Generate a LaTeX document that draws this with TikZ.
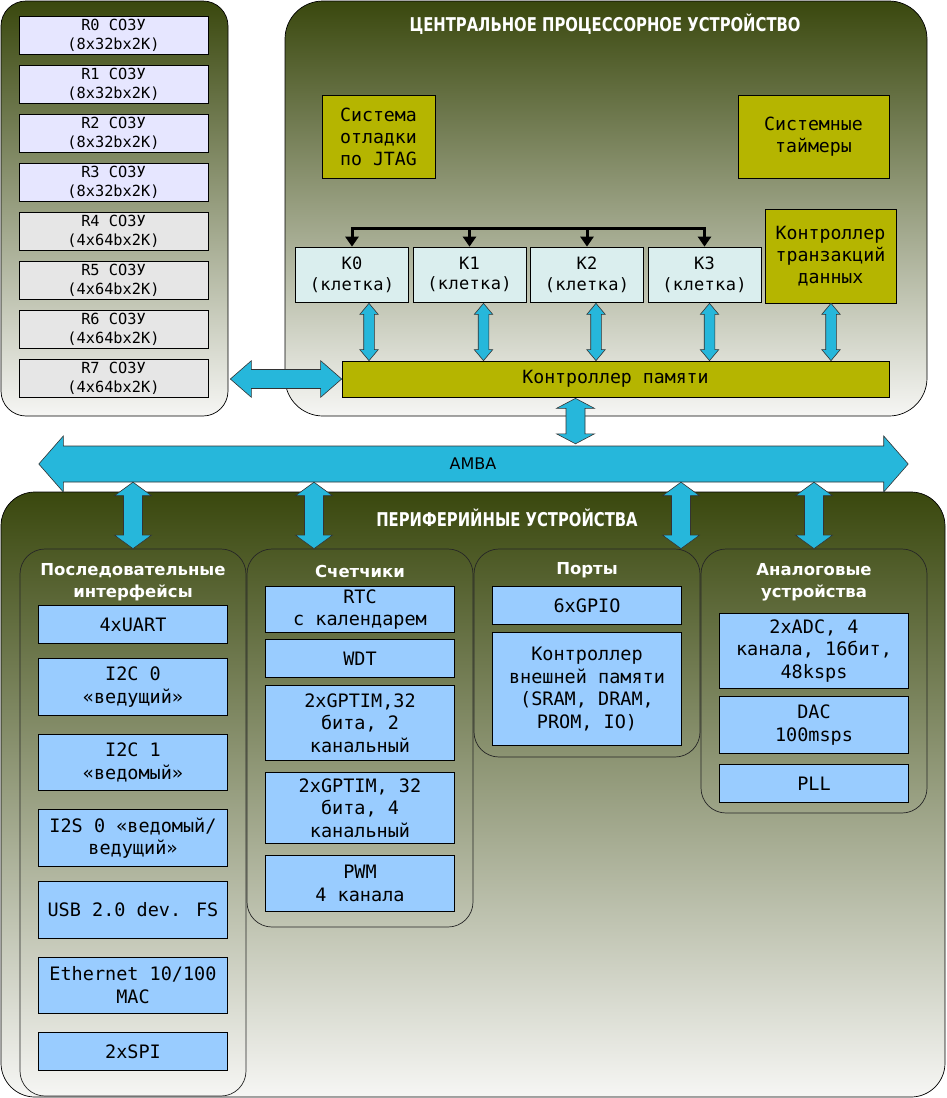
\documentclass[tikz,border=0pt]{standalone}
\usepackage{fontspec}
\setmainfont{DejaVu Sans}
\newfontfamily\monofnt{DejaVu Sans Mono}
\newfontfamily\kfnt[LetterSpace=2]{DejaVu Sans Mono}
\newfontfamily\condfnt[FakeStretch=0.78]{DejaVu Sans}
\usetikzlibrary{arrows.meta,calc}
\definecolor{olivetop}{RGB}{58,72,14}
\definecolor{olivebot}{RGB}{246,246,244}
\definecolor{arrowblue}{RGB}{38,183,219}
\definecolor{boxblue}{RGB}{153,204,255}
\definecolor{lav}{RGB}{230,230,255}
\definecolor{lgray}{RGB}{230,230,230}
\definecolor{kfill}{RGB}{218,238,238}
\definecolor{olivebox}{RGB}{181,181,0}
\newcommand\vdarr[5]{%
  \path[barrow] let \p1=(#1), \p2=(#2) in (\x1,\y1) -- (\x1+#4pt,\y1-#5pt) -- (\x1+#3pt,\y1-#5pt) -- (\x1+#3pt,\y2+#5pt) -- (\x1+#4pt,\y2+#5pt) -- (\x1,\y2) -- (\x1-#4pt,\y2+#5pt) -- (\x1-#3pt,\y2+#5pt) -- (\x1-#3pt,\y1-#5pt) -- (\x1-#4pt,\y1-#5pt) -- cycle;}
\newcommand\hdarr[5]{%
  \path[barrow] let \p1=(#1), \p2=(#2) in (\x1,\y1) -- (\x1+#5pt,\y1+#4pt) -- (\x1+#5pt,\y1+#3pt) -- (\x2-#5pt,\y1+#3pt) -- (\x2-#5pt,\y1+#4pt) -- (\x2,\y1) -- (\x2-#5pt,\y1-#4pt) -- (\x2-#5pt,\y1-#3pt) -- (\x1+#5pt,\y1-#3pt) -- (\x1+#5pt,\y1-#4pt) -- cycle;}
\begin{document}
\begin{tikzpicture}[x=1pt,y=-1pt,
  panel/.style={draw=black, line width=0.7pt, rounded corners=#1, top color=olivetop, bottom color=olivebot, inner sep=0pt},
  subpanel/.style={draw=black!85, line width=0.7pt, rounded corners=25pt, inner sep=0pt, minimum width=226pt},
  box/.style={draw=black, line width=0.7pt, inner sep=0pt, align=center, text=black},
  membox/.style={box, minimum width=189pt, minimum height=38pt, font=\monofnt\fontsize{15.3}{18.7}\selectfont},
  kbox/.style={box, fill=kfill, minimum width=113pt, minimum height=55pt, font=\kfnt\fontsize{17}{20.7}\selectfont},
  olbox/.style={box, fill=olivebox, font=\monofnt\fontsize{18.2}{22}\selectfont},
  bluebox/.style={box, fill=boxblue, minimum width=189pt, font=\monofnt\fontsize{18.5}{22.5}\selectfont},
  titletext/.style={text=white, font=\condfnt\bfseries\fontsize{19}{22}\selectfont, inner sep=0pt},
  subhead/.style={text=white, align=center, inner sep=0pt, font=\bfseries\fontsize{16.5}{22}\selectfont},
  barrow/.style={fill=arrowblue, draw=black!80, line width=0.6pt, line join=miter},
  busline/.style={draw=black, line width=3pt, line join=miter}
]
\useasboundingbox (0,0) rectangle (947,1098);

% ---------- panels ----------
\node[panel=25pt, minimum width=227pt, minimum height=415pt] (mempanel) at (114.5,208.5) {};
\node[panel=38pt, minimum width=642pt, minimum height=415pt] (cpupanel) at (606,208.5) {};
\node[panel=34pt, minimum width=944pt, minimum height=605pt] (perpanel) at (473,794.5) {};

% ---------- memory ----------
\foreach \i/\yy in {0/35,1/84,2/133,3/182}
  \node[membox, fill=lav] (r\i) at (113.5,\yy) {R\i{} СОЗУ\\(8x32bx2K)};
\foreach \i/\yy in {4/231,5/280,6/329,7/378}
  \node[membox, fill=lgray] (r\i) at (113.5,\yy) {R\i{} СОЗУ\\(4x64bx2K)};

% ---------- CPU ----------
\node[titletext] (cputitle) at (605,24) {ЦЕНТРАЛЬНОЕ ПРОЦЕССОРНОЕ УСТРОЙСТВО};
\node[olbox, minimum width=113pt, minimum height=83pt] (jtag) at (378.5,136.5) {Система\\отладки\\по JTAG};
\node[olbox, minimum width=151pt, minimum height=83pt] (timers) at (813.5,136.5) {Системные\\таймеры};
\node[olbox, minimum width=131pt, minimum height=94pt] (trans) at (830.5,256) {Контроллер\\транзакций\\данных};
\node[olbox, minimum width=547pt, minimum height=36pt] (mc) at (615.5,379) {Контроллер памяти};
\node[kbox] (k0) at (352,274.5) {К0\\(клетка)};
\node[kbox] (k1) at (469.5,274.5) {К1\\(клетка)};
\node[kbox] (k2) at (587,274.5) {К2\\(клетка)};
\node[kbox] (k3) at (704.5,274.5) {К3\\(клетка)};

\draw[busline, {Triangle[width=13pt,length=10pt]}-{Triangle[width=13pt,length=10pt]}] (k0.north) -- ++(0,-18.5) -| (k3.north);
\draw[busline, -{Triangle[width=13pt,length=10pt]}] ($(k1.north)+(0,-18.5)$) -- (k1.north);
\draw[busline, -{Triangle[width=13pt,length=10pt]}] ($(k2.north)+(0,-18.5)$) -- (k2.north);

\vdarr{$(k0.south)+(17,1)$}{mc.north}{5.3}{9.2}{11}
\vdarr{$(k1.south)+(14,1)$}{mc.north}{5.3}{9.2}{11}
\vdarr{$(k2.south)+(9,1)$}{mc.north}{5.3}{9.2}{11}
\vdarr{$(k3.south)+(5,1)$}{mc.north}{5.3}{9.2}{11}
\vdarr{$(trans.south)+(0.5,0)$}{mc.north}{5.3}{9.2}{11}

% ---------- AMBA ----------
\node[minimum width=820pt, minimum height=36pt, inner sep=0pt] (amba) at (473,464) {};
\hdarr{$(amba.west)+(-24,0)$}{$(amba.east)+(25,0)$}{18}{28}{24.5}
\node[font=\fontsize{16}{19}\selectfont, text=black] at (amba) {AMBA};

\hdarr{$(mempanel.east |- mc.west)+(2,0)$}{mc.west}{9.5}{18.3}{21}
\vdarr{$(mc.south)+(-40,1)$}{$(amba.north)+(0,-2)$}{9.5}{19}{10}

% ---------- peripherals ----------
\node[titletext] (pertitle) at (507,518) {ПЕРИФЕРИЙНЫЕ УСТРОЙСТВА};
\node[subpanel, minimum height=547pt] (serial) at (133,822.5) {};
\node[subpanel, minimum height=378pt] (cnt) at (360,738) {};
\node[subpanel, minimum height=208pt] (ports) at (587,653) {};
\node[subpanel, minimum height=264pt] (analog) at (814,681) {};

\vdarr{amba.south -| serial.north}{serial.north}{9.5}{18.5}{13.5}
\vdarr{$(amba.south -| cnt.north)+(-46,0)$}{cnt.north}{9.5}{18.5}{13.5}
\vdarr{$(amba.south -| ports.north)+(94,0)$}{ports.north}{9.5}{18.5}{13.5}
\vdarr{amba.south -| analog.north}{analog.north}{9.5}{18.5}{13.5}

\node[subhead] (serhead) at (133,582) {Последовательные\\интерфейсы};
\node[subhead] (cnthead) at (360,571) {Счетчики};
\node[subhead] (porthead) at (587,570) {Порты};
\node[subhead] (anhead) at (814,582) {Аналоговые\\устройства};

% serial
\node[bluebox, minimum height=38pt] (uart) at (133,624.5) {4xUART};
\node[bluebox, minimum height=57pt] (i2c0) at (133,687) {I2C 0\\«ведущий»};
\node[bluebox, minimum height=56pt] (i2c1) at (133,762.3) {I2C 1\\«ведомый»};
\node[bluebox, minimum height=57pt] (i2s) at (133,838) {I2S 0 «ведомый/\\ведущий»};
\node[bluebox, minimum height=57pt] (usb) at (133,909.7) {USB 2.0 dev. FS};
\node[bluebox, minimum height=56pt] (eth) at (133,985) {Ethernet 10/100\\MAC};
\node[bluebox, minimum height=38pt] (spi) at (133,1051.3) {2xSPI};
% counters
\node[bluebox, minimum height=46pt] (rtc) at (360,609.5) {RTC\\с календарем};
\node[bluebox, minimum height=38pt] (wdt) at (360,658.3) {WDT};
\node[bluebox, minimum height=75pt] (gpt2) at (360,723) {2xGPTIM,32\\бита, 2\\канальный};
\node[bluebox, minimum height=71pt] (gpt4) at (360,807.8) {2xGPTIM, 32\\бита, 4\\канальный};
\node[bluebox, minimum height=56pt] (pwm) at (360,883.5) {PWM\\4 канала};
% ports
\node[bluebox, minimum height=38pt] (gpio) at (587,605.5) {6xGPIO};
\node[bluebox, minimum height=112.6pt] (extmem) at (587,689) {Контроллер\\внешней памяти\\(SRAM, DRAM,\\PROM, IO)};
% analog
\node[bluebox, minimum height=75pt] (adc) at (814,651) {2xADC, 4\\канала, 16бит,\\48ksps};
\node[bluebox, minimum height=57pt] (dac) at (814,725) {DAC\\100msps};
\node[bluebox, minimum height=38pt] (pll) at (814,783.5) {PLL};
\end{tikzpicture}
\end{document}
